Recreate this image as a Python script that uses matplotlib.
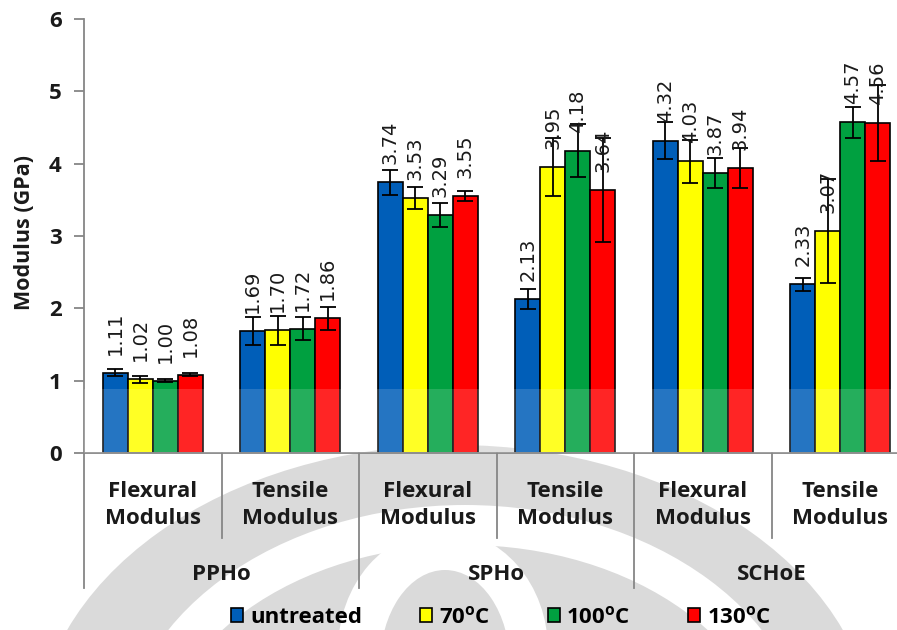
import numpy as np
import matplotlib.pyplot as plt
from matplotlib.patches import Ellipse
from matplotlib.transforms import blended_transform_factory

# Modulus values (GPa) per specimen/test, one list per treatment
categories = ['Flexural\nModulus', 'Tensile\nModulus'] * 3
groups = ['PPHo', 'SPHo', 'SCHoE']
series = ['untreated', '70$^{\\mathrm{o}}$C', '100$^{\\mathrm{o}}$C', '130$^{\\mathrm{o}}$C']
colors = ['#005eb8', '#ffff00', '#00a040', '#ff0000']

untreated = [1.11, 1.69, 3.74, 2.13, 4.32, 2.33]
t70 = [1.02, 1.70, 3.53, 3.95, 4.03, 3.07]
t100 = [1.00, 1.72, 3.29, 4.18, 3.87, 4.57]
t130 = [1.08, 1.86, 3.55, 3.64, 3.94, 4.56]

err_untreated = [0.05, 0.19, 0.17, 0.14, 0.25, 0.09]
err_70 = [0.05, 0.20, 0.15, 0.40, 0.30, 0.72]
err_100 = [0.02, 0.16, 0.17, 0.37, 0.21, 0.22]
err_130 = [0.02, 0.16, 0.07, 0.72, 0.28, 0.53]

values = [untreated, t70, t100, t130]
errors = [err_untreated, err_70, err_100, err_130]

plt.rcParams['font.family'] = ['Open Sans', 'DejaVu Sans']
plt.rcParams['mathtext.fontset'] = 'custom'
plt.rcParams['mathtext.rm'] = 'Open Sans:bold'

W, H = 897, 630
fig = plt.figure(figsize=(W / 100, H / 100), dpi=100)
ax = fig.add_axes([84 / W, 1 - 453 / H, 1 - 84 / W, (453 - 19) / H])
ax.patch.set_visible(False)


def px_ellipse(cx, cy, rx, ry, color):
    e = Ellipse((cx / W, 1 - cy / H), 2 * rx / W, 2 * ry / H,
                transform=fig.transFigure, facecolor=color,
                edgecolor='none', zorder=-5)
    fig.add_artist(e)


# faint background logo
wm = '#dadada'
px_ellipse(455, 745, 420, 300, wm)
px_ellipse(465, 760, 345, 255, 'white')
px_ellipse(465, 770, 310, 225, wm)
px_ellipse(443, 650, 105, 120, 'white')
px_ellipse(445, 665, 65, 95, wm)

x = np.arange(len(categories)) + 0.5
bw = 0.182
for k, (vals, errs, col, name) in enumerate(zip(values, errors, colors, series)):
    xpos = x + (k - 1.5) * bw
    ax.bar(xpos, vals, width=bw, color=col, edgecolor='black', linewidth=1.2,
           yerr=errs, capsize=6, label=name, zorder=2,
           error_kw=dict(elinewidth=1.3, capthick=1.3, ecolor='black'))
    for xi, v in zip(xpos, vals):
        ax.annotate(f'{v:.2f}', (xi, v), xytext=(0, 13), textcoords='offset points',
                    rotation=90, ha='center', va='bottom', fontsize=14,
                    family='DejaVu Sans', color='#1a1a1a', zorder=5)

# lighter lower band
ax.axhspan(0, 0.885, color='white', alpha=0.15, zorder=3, lw=0)

ax.set_xlim(0, 813 / 137.5)
ax.set_ylim(0, 6)
ax.set_yticks(range(7))
ax.set_xticks([])
for s in ['top', 'right']:
    ax.spines[s].set_visible(False)
for s in ['left', 'bottom']:
    ax.spines[s].set_color('#868686')
    ax.spines[s].set_linewidth(1.3)
ax.tick_params(axis='y', length=7, width=1.3, color='#868686', pad=9,
               labelsize=16)
for lab in ax.get_yticklabels():
    lab.set_fontweight('bold')
    lab.set_color('#1a1a1a')

# two-level category axis
trans = blended_transform_factory(ax.transData, ax.transAxes)
ah = 453 - 19
for xb in range(6):
    depth = 588 if xb % 2 == 0 else 538
    ax.plot([xb, xb], [0, -(depth - 453) / ah], transform=trans, clip_on=False,
            color='#868686', lw=1.3)
for xi, cat in zip(x, categories):
    ax.text(xi, -(505 - 453) / ah, cat, transform=trans, ha='center', va='center',
            fontsize=16, fontweight='bold', linespacing=1.4, color='#1a1a1a')
for gi, g in enumerate(groups):
    ax.text(2 * gi + 1, -(575 - 453) / ah, g, transform=trans, ha='center',
            va='center', fontsize=16, fontweight='bold', color='#1a1a1a')

fig.text(24 / W, 1 - 232 / H, 'Modulus (GPa)', rotation=90, ha='center',
         va='center', fontsize=15.5, fontweight='bold', color='#1a1a1a')

ax.legend(ncol=4, loc='center', bbox_to_anchor=(501 / W, 1 - 617 / H),
          bbox_transform=fig.transFigure, frameon=False,
          prop=dict(family='Open Sans', weight='bold', size=16),
          handlelength=0.55, handleheight=0.55, handletextpad=0.3,
          columnspacing=2.6, borderpad=0)

fig.savefig('out.png', dpi=100)
